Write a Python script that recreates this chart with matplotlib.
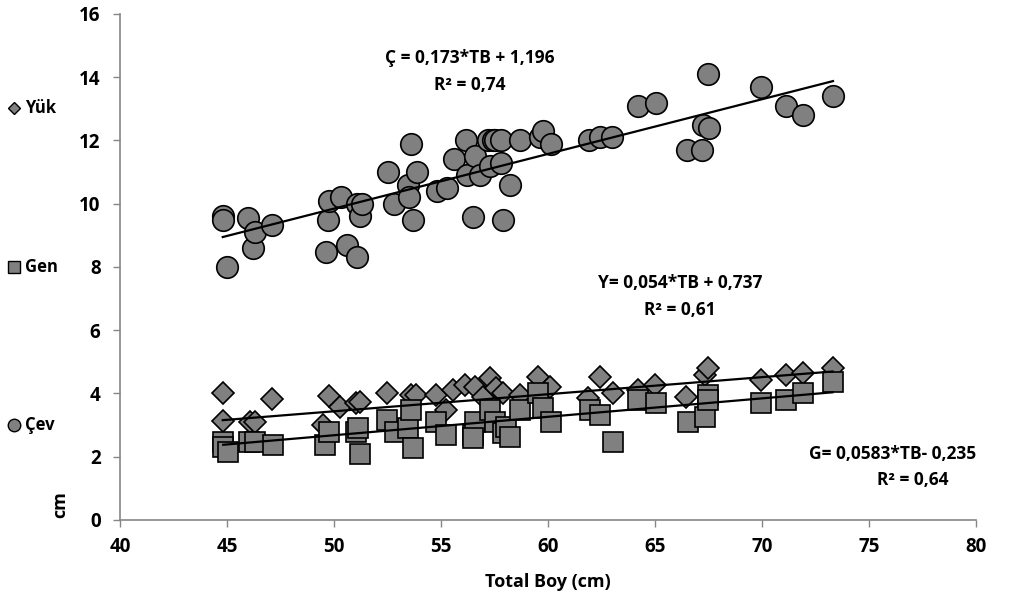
import matplotlib
matplotlib.use("Agg")
import matplotlib.pyplot as plt
from matplotlib.lines import Line2D
import numpy as np

plt.rcParams['font.family'] = ['Open Sans', 'DejaVu Sans']
plt.rcParams['font.weight'] = 'bold'

# Çev (circles)
cev_x = [44.8, 44.8, 45.0, 46.0, 46.2, 46.3, 47.1, 49.6, 49.7, 49.75, 50.3, 50.6, 51.05, 51.05,
         51.2, 51.3, 52.5, 52.8, 53.45, 53.5, 53.6, 53.7, 53.85, 54.8, 55.25, 55.6, 56.2, 56.15,
         56.5, 56.6, 56.8, 57.2, 57.3, 57.4, 57.5, 57.8, 57.8, 57.9, 58.2, 58.7, 59.6, 59.75,
         60.15, 61.9, 62.4, 63.0, 64.2, 65.05, 66.5, 67.2, 67.25, 67.5, 67.45, 69.95, 71.1,
         71.9, 73.3]
cev_y = [9.6, 9.48, 8.0, 9.55, 8.6, 9.1, 9.33, 8.47, 9.48, 10.1, 10.2, 8.7, 8.3, 10.0,
         9.6, 10.0, 11.0, 10.0, 10.6, 10.2, 11.9, 9.5, 11.0, 10.4, 10.5, 11.4, 10.9, 12.0,
         9.58, 11.5, 10.9, 12.0, 11.2, 12.0, 12.0, 12.0, 11.3, 9.5, 10.6, 12.0, 12.1, 12.3,
         11.9, 12.0, 12.1, 12.1, 13.1, 13.2, 11.7, 11.7, 12.5, 12.4, 14.1, 13.7, 13.1,
         12.8, 13.4]

# Yük (diamonds)
yuk_x = [44.8, 44.8, 46.07, 46.3, 47.1, 49.5, 49.77, 50.27, 51.04, 51.2, 52.45, 53.6, 53.84,
         54.78, 55.24, 55.55, 56.1, 56.57, 56.95, 57.27, 57.58, 57.9, 58.67, 59.52, 60.07,
         61.85, 62.4, 63.02, 64.19, 64.97, 66.44, 67.3, 67.45, 69.94, 71.11, 71.89, 73.28]
yuk_y = [4.0, 3.13, 3.11, 3.11, 3.82, 3.0, 3.92, 3.58, 3.7, 3.74, 4.0, 3.95, 3.95,
         3.95, 3.48, 4.1, 4.27, 4.21, 3.9, 4.48, 4.16, 4.0, 3.95, 4.53, 4.21,
         3.85, 4.53, 4.0, 4.11, 4.27, 3.9, 4.58, 4.8, 4.43, 4.58, 4.64, 4.8]

# Gen (squares)
gen_x = [44.82, 44.82, 45.05, 46.03, 46.3, 47.15, 49.57, 49.77, 51.04, 51.2, 51.12, 52.45,
         52.83, 53.45, 53.6, 53.69, 54.78, 55.24, 56.49, 56.57, 56.5, 57.27, 57.5, 57.9,
         58.04, 58.2, 58.67, 59.52, 59.75, 60.14, 61.93, 62.4, 63.02, 64.19, 65.04, 66.52,
         67.3, 67.45, 67.45, 69.94, 71.11, 71.89, 73.28]
gen_y = [2.48, 2.3, 2.16, 2.48, 2.48, 2.37, 2.37, 2.79, 2.79, 2.1, 2.9, 3.16,
         2.79, 2.9, 3.48, 2.27, 3.11, 2.69, 2.69, 3.11, 2.58, 3.48, 3.11, 2.74,
         2.95, 2.63, 3.48, 4.0, 3.53, 3.11, 3.48, 3.32, 2.48, 3.79, 3.69, 3.11,
         3.27, 3.95, 3.79, 3.69, 3.79, 4.0, 4.37]

# Trend line coefficients (slope, intercept)
cev_fit = (0.173, 1.196)
yuk_fit = (0.054, 0.737)
gen_fit = (0.0583, -0.235)

x_ticks = [40, 45, 50, 55, 60, 65, 70, 75, 80]
y_ticks = [0, 2, 4, 6, 8, 10, 12, 14, 16]

fig = plt.figure(figsize=(10.10, 6.01), dpi=100)
ax = fig.add_axes([0.1188, 0.1348, 0.848, 0.842])

face = '#808080'
ax.plot(yuk_x, yuk_y, linestyle='none', marker='D', markersize=11, markerfacecolor=face,
        markeredgecolor='black', markeredgewidth=1.2, zorder=2)
ax.plot(gen_x, gen_y, linestyle='none', marker='s', markersize=14.5, markerfacecolor=face,
        markeredgecolor='black', markeredgewidth=1.2, zorder=3)
ax.plot(cev_x, cev_y, linestyle='none', marker='o', markersize=15.5, markerfacecolor=face,
        markeredgecolor='black', markeredgewidth=1.2, zorder=4)

for xs, fit in [(yuk_x, yuk_fit), (gen_x, gen_fit), (cev_x, cev_fit)]:
    xx = np.array([min(xs), max(xs)])
    ax.plot(xx, fit[0] * xx + fit[1], color='black', linewidth=1.6, zorder=5)

ax.set_xlim(40, 80)
ax.set_ylim(0, 16)
ax.set_xticks(x_ticks)
ax.set_yticks(y_ticks)
ax.tick_params(axis='both', direction='out', length=5, color='#868686', width=1,
               labelsize=13.5)
ax.tick_params(axis='x', pad=7)
ax.tick_params(axis='y', pad=9)
for lab in ax.get_xticklabels() + ax.get_yticklabels():
    lab.set_fontweight('bold')
for s in ['top', 'right']:
    ax.spines[s].set_visible(False)
for s in ['left', 'bottom']:
    ax.spines[s].set_color('#868686')
    ax.spines[s].set_linewidth(1.2)

ax.set_xlabel('Total Boy (cm)', fontsize=13, fontweight='bold', labelpad=12)
fig.text(60 / 1010, 1 - 505 / 601, 'cm', rotation=90, fontsize=13, fontweight='bold',
         ha='center', va='center')

# Equations
def ftext(px, py, s, ha='center'):
    fig.text(px / 1010, 1 - py / 601, s, fontsize=12.5, fontweight='bold', ha=ha, va='center')

ftext(470, 58, 'Ç = 0,173*TB + 1,196')
ftext(470, 85, 'R² = 0,74')
ftext(680, 283, 'Y= 0,054*TB + 0,737')
ftext(680, 310, 'R² = 0,61')
ftext(893, 454, 'G= 0,0583*TB- 0,235')
ftext(913, 480, 'R² = 0,64')

# Legend (left side)
leg = [('D', 6, 'Yük', 108), ('s', 8, 'Gen', 267), ('o', 9, 'Çev', 425)]
for m, ms, lab, py in leg:
    fig.add_artist(Line2D([14 / 1010], [1 - py / 601], transform=fig.transFigure,
                          marker=m, markersize=ms, markerfacecolor=face,
                          markeredgecolor='black', markeredgewidth=1.0, linestyle='none'))
    fig.text(25 / 1010, 1 - py / 601, lab, fontsize=12, fontweight='bold',
             ha='left', va='center')

fig.savefig('out.png', dpi=100)
